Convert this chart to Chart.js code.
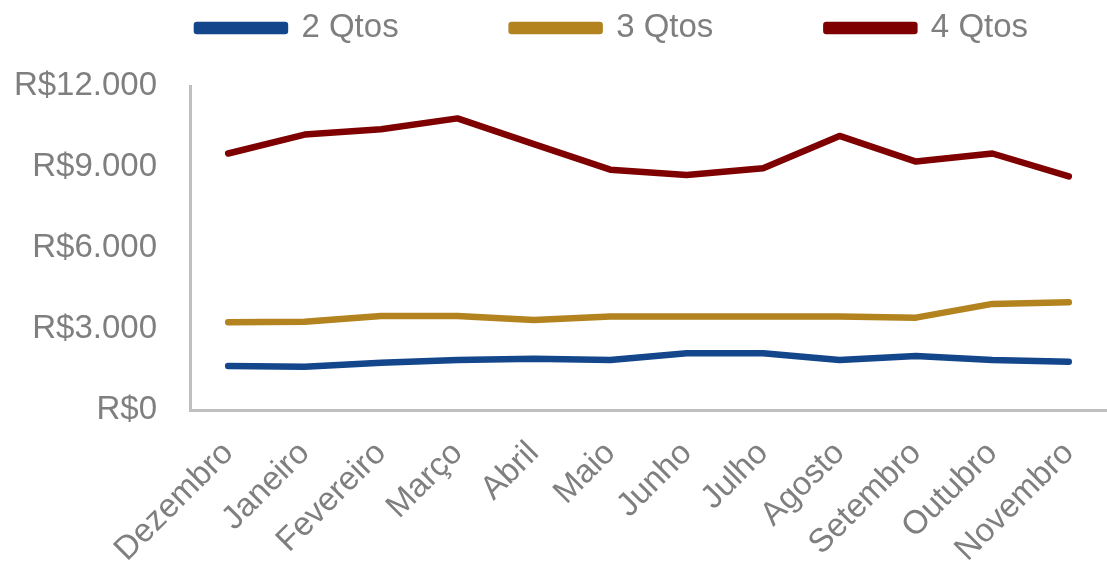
<!DOCTYPE html>
<html lang="pt-BR">
<head>
<meta charset="utf-8">
<title>Aluguel médio por número de quartos</title>
<script src="https://cdn.jsdelivr.net/npm/chart.js@4/dist/chart.umd.min.js"></script>
<style>
  html, body { margin: 0; padding: 0; background: #ffffff; }
  #wrap { width: 1107px; height: 569px; position: relative; }
</style>
</head>
<body>
<div id="wrap"><canvas id="chart" width="1107" height="569"></canvas></div>
<script>
// Meses do período
const meses = ['Dezembro', 'Janeiro', 'Fevereiro', 'Março', 'Abril', 'Maio',
  'Junho', 'Julho', 'Agosto', 'Setembro', 'Outubro', 'Novembro'];

// Valor médio (R$) por número de quartos
const qtos2 = [1630, 1600, 1750, 1850, 1900, 1850, 2100, 2100, 1850, 2000, 1850, 1790];
const qtos3 = [3250, 3270, 3480, 3480, 3330, 3460, 3460, 3460, 3460, 3420, 3930, 3990];
const qtos4 = [9500, 10200, 10400, 10800, 9850, 8900, 8700, 8950, 10150, 9200, 9500, 8650];

// Eixo Y
const yTicks = [0, 3000, 6000, 9000, 12000];

const cinza = '#7f7f7f';
const fonte = 'Liberation Sans, Arial, sans-serif';
const espacoLegenda = 113;

function formatarReal(v) {
  return 'R$' + String(v).replace(/\B(?=(\d{3})+(?!\d))/g, '.');
}

// Legenda: altura fixa e posição alinhada à área do gráfico
const ajustaLegenda = {
  id: 'ajustaLegenda',
  beforeLayout(chart) {
    const lg = chart.legend;
    if (lg && !lg._alturaFixa) {
      const fitOriginal = lg.fit.bind(lg);
      lg.fit = function () { fitOriginal(); this.height = 86; };
      lg._alturaFixa = true;
    }
  },
  afterLayout(chart) {
    const lg = chart.legend;
    if (!lg) return;
    lg.left += 56; lg.right += 56;
    lg.top = 28 - 16.5 - espacoLegenda;
  }
};

const serie = (label, data, cor) => ({
  label, data,
  borderColor: cor,
  backgroundColor: cor,
  borderWidth: 6.5,
  borderCapStyle: 'round',
  borderJoinStyle: 'round',
  pointRadius: 0,
  pointHoverRadius: 0,
  tension: 0,
  fill: false
});

new Chart(document.getElementById('chart'), {
  type: 'line',
  data: {
    labels: meses,
    datasets: [
      serie('2 Qtos', qtos2, '#13468a'),
      serie('3 Qtos', qtos3, '#b3831f'),
      serie('4 Qtos', qtos4, '#7f0000')
    ]
  },
  options: {
    responsive: false,
    animation: false,
    layout: { padding: { top: 0, right: -6, bottom: 0, left: 0 } },
    plugins: {
      tooltip: { enabled: false },
      legend: {
        position: 'top',
        align: 'center',
        labels: {
          color: cinza,
          font: { family: fonte, size: 33 },
          boxWidth: 88,
          boxHeight: 6,
          padding: espacoLegenda
        }
      }
    },
    scales: {
      x: {
        offset: true,
        afterFit(scale) { scale.height = 159; scale.paddingRight = 0; },
        grid: { display: false, drawTicks: false },
        border: { display: true, color: '#bfbfbf', width: 3 },
        ticks: {
          color: cinza,
          font: { family: fonte, size: 33 },
          minRotation: 45,
          maxRotation: 45,
          padding: 24,
          autoSkip: false
        }
      },
      y: {
        min: 0,
        max: 12000,
        afterBuildTicks(scale) { scale.ticks = yTicks.map(v => ({ value: v })); },
        afterFit(scale) { scale.width = 190; },
        grid: { display: false, drawTicks: false },
        border: { display: true, color: '#bfbfbf', width: 3 },
        ticks: {
          color: cinza,
          font: { family: fonte, size: 33 },
          padding: 33,
          callback: v => formatarReal(v)
        }
      }
    }
  },
  plugins: [ajustaLegenda]
});
</script>
</body>
</html>
